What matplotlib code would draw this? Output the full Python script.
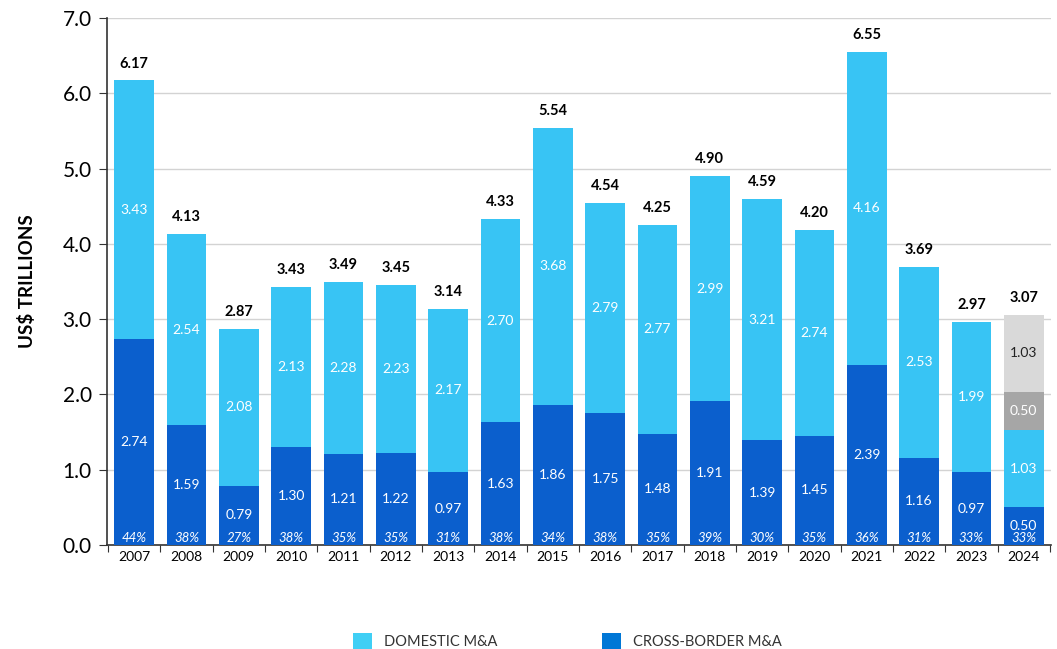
import matplotlib
matplotlib.use("Agg")
import matplotlib.pyplot as plt
from matplotlib.patches import Patch
import numpy as np

plt.rcParams['font.family'] = ['Lato', 'DejaVu Sans']

years = [str(y) for y in range(2007, 2025)]
cross_border = [2.74, 1.59, 0.79, 1.30, 1.21, 1.22, 0.97, 1.63, 1.86, 1.75,
                1.48, 1.91, 1.39, 1.45, 2.39, 1.16, 0.97, 0.50]
domestic = [3.43, 2.54, 2.08, 2.13, 2.28, 2.23, 2.17, 2.70, 3.68, 2.79,
            2.77, 2.99, 3.21, 2.74, 4.16, 2.53, 1.99, 1.03]
totals = [6.17, 4.13, 2.87, 3.43, 3.49, 3.45, 3.14, 4.33, 5.54, 4.54,
          4.25, 4.90, 4.59, 4.20, 6.55, 3.69, 2.97, 3.07]
cross_share = ["44%", "38%", "27%", "38%", "35%", "35%", "31%", "38%", "34%",
               "38%", "35%", "39%", "30%", "35%", "36%", "31%", "33%", "33%"]
# Projected remainder for the final year (cross-border, domestic)
proj_cross = 0.50
proj_domestic = 1.03

c_dom = "#38C4F4"
c_cross = "#0B5FCD"
c_proj_cross = "#A6A6A6"
c_proj_dom = "#D9D9D9"

fig = plt.figure(figsize=(10.57, 6.49), dpi=100)
ax = fig.add_axes([0.1012, 0.1602, 0.8931, 0.8121])

x = np.arange(len(years))
w = 0.76
ax.bar(x, cross_border, w, color=c_cross, zorder=3)
ax.bar(x, domestic, w, bottom=cross_border, color=c_dom, zorder=3)

last = len(years) - 1
base = cross_border[last] + domestic[last]
ax.bar(x[last], proj_cross, w, bottom=base, color=c_proj_cross, zorder=3)
ax.bar(x[last], proj_domestic, w, bottom=base + proj_cross, color=c_proj_dom, zorder=3)

seg_fs = 10
for i in range(len(years)):
    cb, dm = cross_border[i], domestic[i]
    ax.text(x[i], cb / 2, f"{cb:.2f}", ha="center", va="center",
            color="white", fontsize=seg_fs, zorder=4)
    ax.text(x[i], cb + dm / 2, f"{dm:.2f}", ha="center", va="center",
            color="white", fontsize=seg_fs, zorder=4)
    ax.text(x[i], 0.09, cross_share[i], ha="center", va="center",
            color="white", fontsize=9.5, style="italic", zorder=4)
    top = cb + dm
    if i == last:
        top = base + proj_cross + proj_domestic
    ax.text(x[i], top + 0.13, f"{totals[i]:.2f}", ha="center", va="bottom",
            color="black", fontsize=10.5, fontweight="bold", zorder=4)

ax.text(x[last], base + proj_cross / 2, f"{proj_cross:.2f}", ha="center",
        va="center", color="white", fontsize=seg_fs, zorder=4)
ax.text(x[last], base + proj_cross + proj_domestic / 2, f"{proj_domestic:.2f}",
        ha="center", va="center", color="#222222", fontsize=seg_fs, zorder=4)

ax.set_xlim(-0.52, last + 0.52)
ax.set_ylim(0, 7.0)
ax.set_yticks(np.arange(0, 7.01, 1.0))
ax.set_yticklabels([f"{v:.1f}" for v in np.arange(0, 7.01, 1.0)], fontsize=15)
ax.yaxis.grid(True, color="#D3D3D3", linewidth=1, zorder=0)
ax.set_axisbelow(True)

ax.set_xticks(np.arange(-0.5, last + 1, 1.0))
ax.set_xticklabels([])
ax.set_xticks(x, minor=True)
ax.set_xticklabels(years, minor=True, fontsize=10)
ax.tick_params(axis="x", which="major", length=5, direction="out", color="#333333")
ax.tick_params(axis="x", which="minor", length=0, pad=4)
ax.tick_params(axis="y", length=6, color="#333333", pad=5)

for s in ["top", "right"]:
    ax.spines[s].set_visible(False)
for s in ["left", "bottom"]:
    ax.spines[s].set_color("#333333")
    ax.spines[s].set_linewidth(1.2)

ax.set_ylabel("US$ TRILLIONS", fontsize=13.5, fontweight="bold", labelpad=19)

handles = [Patch(facecolor="#40CFF5", label="DOMESTIC M&A"),
           Patch(facecolor="#0077D6", label="CROSS-BORDER M&A")]
fig.legend(handles=handles, loc="lower left", bbox_to_anchor=(0.322, -0.02),
           ncol=2, frameon=False, fontsize=10.5, handlelength=1.3,
           handleheight=1.3, handletextpad=0.8, columnspacing=7.2,
           labelcolor="#333333")

fig.savefig("out.png", dpi=100)
